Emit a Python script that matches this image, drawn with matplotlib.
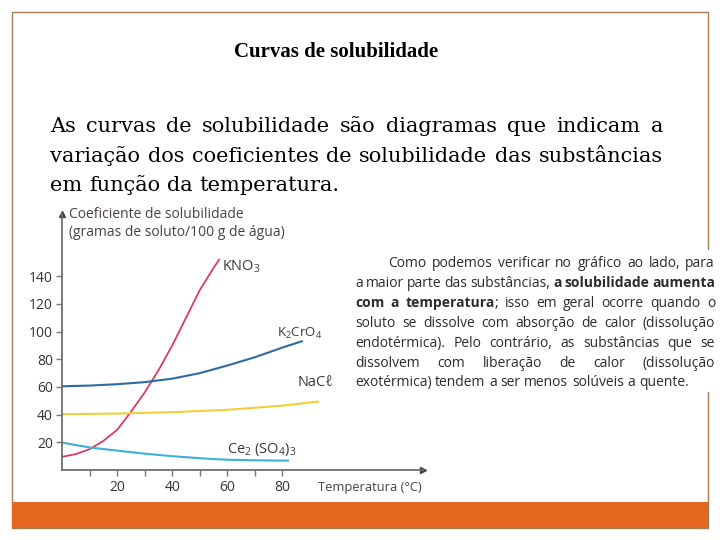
import matplotlib
matplotlib.use('Agg')
import matplotlib.pyplot as plt
from matplotlib.patches import Rectangle

plt.rcParams['mathtext.fontset'] = 'custom'
plt.rcParams['mathtext.rm'] = 'Open Sans'
plt.rcParams['mathtext.it'] = 'Open Sans:italic'
plt.rcParams['mathtext.bf'] = 'Open Sans:bold'

# dados das curvas (temperatura em °C, coeficiente em g/100 g de água)
t_kno3 = [0, 5, 10, 15, 20, 25, 30, 35, 40, 45, 50, 55, 57]
s_kno3 = [9.5, 11.5, 15, 21, 29, 42, 56, 72, 90, 110, 130, 146, 152]

t_k2cro4 = [0, 10, 20, 30, 40, 50, 60, 70, 80, 87]
s_k2cro4 = [60.5, 61, 62, 63.5, 66, 70, 75.5, 81.5, 88.5, 93]

t_nacl = [0, 20, 40, 60, 80, 93]
s_nacl = [40.3, 40.8, 41.8, 43.5, 46.5, 49.5]

t_ce = [0, 10, 20, 30, 40, 50, 60, 70, 80, 82]
s_ce = [19.8, 16.3, 14, 11.8, 10, 8.5, 7.4, 7, 6.8, 6.8]

y_ticks = [20, 40, 60, 80, 100, 120, 140]
x_ticks = [20, 40, 60, 80]
x_minor = [10, 30, 50, 70]

titulo = "Curvas de solubilidade"
paragrafo = ["As curvas de solubilidade são diagramas que indicam a",
             "variação dos coeficientes de solubilidade das substâncias",
             "em função da temperatura."]

# texto da direita: (texto, negrito)
texto_dir = [
    [("Como podemos verificar no gráfico ao lado, para", False)],
    [("a maior parte das substâncias,", False), ("a solubilidade aumenta", True)],
    [("com a temperatura", True), ("; isso em geral ocorre quando o", False)],
    [("soluto se dissolve com absorção de calor (dissolução", False)],
    [("endotérmica). Pelo contrário, as substâncias que se", False)],
    [("dissolvem com liberação de calor (dissolução", False)],
    [("exotérmica) tendem a ser menos solúveis a quente.", False)],
]

W, H = 720, 540
fig = plt.figure(figsize=(W / 100, H / 100), dpi=100)
bg = fig.add_axes([0, 0, 1, 1])
bg.set_xlim(0, W)
bg.set_ylim(H, 0)
bg.axis('off')

borda = '#a27b55'
bg.add_patch(Rectangle((12, 12), 696, 516, fill=False, ec=borda, lw=1.0))
bg.add_patch(Rectangle((12, 502), 696, 26, fc='#e4661f', ec='none'))
# a caixa de texto cobre a borda da direita
bg.add_patch(Rectangle((352, 250), 368, 142, fc='white', ec='none', zorder=2))

bg.text(336, 57, titulo, ha='center', va='baseline', fontsize=15,
        fontweight='bold', family='Liberation Serif', color='black')

renderer = fig.canvas.get_renderer()


def justificar(partes, x0, x1, y, fs, family, color, just=True):
    # partes: lista de (palavra, negrito, colar_antes); y = linha de base
    objs = []
    for palavra, bold, _ in partes:
        t = bg.text(0, y, palavra, ha='left', va='baseline', fontsize=fs,
                    family=family, color=color, zorder=3,
                    fontweight='bold' if bold else 'normal')
        objs.append(t)
    larg = [t.get_window_extent(renderer).width for t in objs]
    espaco = bg.text(0, 0, 'a a', fontsize=fs, family=family)
    esp_a = bg.text(0, 0, 'aa', fontsize=fs, family=family)
    esp = espaco.get_window_extent(renderer).width - esp_a.get_window_extent(renderer).width
    espaco.remove()
    esp_a.remove()
    n_gaps = sum(1 for p in partes[1:] if not p[2])
    if just and n_gaps > 0:
        esp = (x1 - x0 - sum(larg)) / n_gaps
    x = x0
    for i, t in enumerate(objs):
        if i > 0 and not partes[i][2]:
            x += esp
        t.set_x(x)
        x += larg[i]


for i, linha in enumerate(paragrafo):
    partes = [(w, False, False) for w in linha.split()]
    justificar(partes, 50, 663, 132 + i * 29.5, 15, 'DejaVu Serif', 'black',
               just=(i < len(paragrafo) - 1))

ys = [267, 287, 307, 327, 347, 367, 386]
for i, linha in enumerate(texto_dir):
    partes = []
    for seg, bold in linha:
        ws = seg.split()
        for j, w in enumerate(ws):
            colar = (j == 0 and seg.startswith(';'))
            partes.append((w, bold, colar))
    x0 = 388 if i == 0 else 355
    justificar(partes, x0, 715, ys[i], 10.0, 'Open Sans',
               '#2b2b2b', just=(i < len(texto_dir) - 1))

# gráfico
x_px0, x_px1 = 62, 423
y_px0, y_px1 = 470, 214
ax = fig.add_axes([x_px0 / W, 1 - y_px0 / H, (x_px1 - x_px0) / W, (y_px0 - y_px1) / H])
ax.set_xlim(0, 131)
ax.set_ylim(0, 185)
ax.patch.set_alpha(0)
for s in ['top', 'right']:
    ax.spines[s].set_visible(False)
for s in ['left', 'bottom']:
    ax.spines[s].set_color('#6e6e6e')
    ax.spines[s].set_linewidth(1.3)
ax.plot(1, 0, '>', transform=ax.transAxes, clip_on=False, color='#444', ms=4)
ax.plot(0, 1, '^', transform=ax.transAxes, clip_on=False, color='#444', ms=4)

ax.set_xticks(x_ticks)
ax.set_xticks(x_minor, minor=True)
ax.set_yticks(y_ticks)
ax.tick_params(which='both', direction='out', length=4.5, width=1, color='#777',
               labelsize=10, labelcolor='#333')
ax.tick_params(axis='x', pad=3)
ax.tick_params(axis='y', pad=2)
for lab in ax.get_xticklabels() + ax.get_yticklabels():
    lab.set_family('Open Sans')

ax.plot(t_kno3, s_kno3, color='#d93a66', lw=1.3)
ax.plot(t_k2cro4, s_k2cro4, color='#2c6aa3', lw=1.5)
ax.plot(t_nacl, s_nacl, color='#f0cf3c', lw=1.5)
ax.plot(t_ce, s_ce, color='#3eb0d8', lw=1.5)

fam = ['Open Sans', 'DejaVu Sans']
lc = '#3a3a3a'
ax.text(58, 147, r'KNO$_\mathrm{3}$', fontsize=10.5, family=fam, color=lc, va='center')
ax.text(78, 99, r'K$_\mathrm{2}$CrO$_\mathrm{4}$', fontsize=9.5, family=fam, color=lc, va='center')
ax.text(85.6, 63, 'NaCℓ', fontsize=10.5, family=fam, color=lc, va='center')
ax.text(59.9, 14.5, r'Ce$_\mathrm{2}$ (SO$_\mathrm{4}$)$_\mathrm{3}$', fontsize=10.5,
        family=fam, color=lc, va='center')

bg.text(69, 215, 'Coeficiente de solubilidade', fontsize=10, family='Open Sans',
        color='#4a4040', va='center', zorder=3)
bg.text(69, 233, '(gramas de soluto/100 g de água)', fontsize=10, family='Open Sans',
        color='#4a4040', va='center', zorder=3)
bg.text(318, 487, 'Temperatura (°C)', fontsize=9.3, family='Open Sans',
        color='#4a4040', va='center', zorder=3)

fig.savefig('out.png', dpi=100)
